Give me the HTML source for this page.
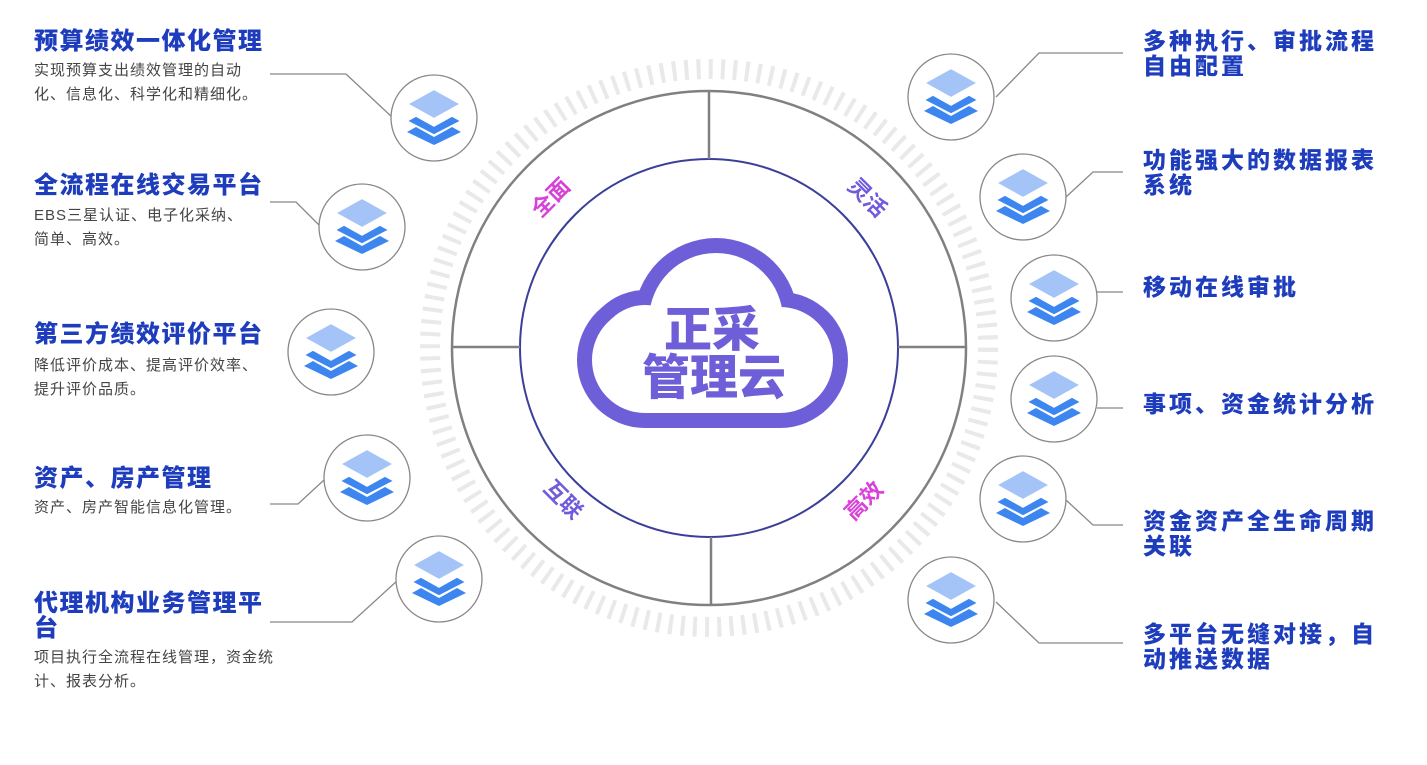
<!DOCTYPE html>
<html><head><meta charset="utf-8"><style>
body{margin:0;width:1427px;height:765px;background:#fff;position:relative;overflow:hidden;font-family:"Liberation Sans","Noto Sans CJK SC",sans-serif}
.t{position:absolute;color:#1e3dbd;font-weight:900;font-size:24px;line-height:25px;letter-spacing:1.5px;white-space:nowrap}
.r{font-size:23px;letter-spacing:3px}
.d{position:absolute;color:#444;font-size:15px;line-height:24px;letter-spacing:1px;white-space:nowrap}
svg{position:absolute;left:0;top:0}
</style></head><body>
<svg width="1427" height="765" viewBox="0 0 1427 765">
<defs>
<g id="ic">
<circle r="43" fill="#fff" stroke="#888" stroke-width="1.3"/>
<path d="M-27,14 L-18,9 L0,19 L18,9 L27,14 L0,27Z" fill="#3d86f0"/>
<path d="M-27,3 L-18,-2 L0,8 L18,-2 L27,3 L0,17Z" fill="#3d86f0" stroke="#fff" stroke-width="1.5"/>
<path d="M-27,-14 L0,-29 L27,-14 L0,1Z" fill="#a4c4f8" stroke="#fff" stroke-width="2"/>
</g>
</defs>
<circle cx="709" cy="348" r="279" fill="none" stroke="#e9e9e9" stroke-width="20" stroke-dasharray="4 8.17"/>
<circle cx="709" cy="348" r="257" fill="#fff" stroke="#808080" stroke-width="2.5"/>
<circle cx="709" cy="348" r="189" fill="#fff" stroke="#3b3f9a" stroke-width="2"/>
<g stroke="#808080" stroke-width="2.5">
<line x1="709" y1="91" x2="709" y2="159"/><line x1="711" y1="537" x2="711" y2="605"/>
<line x1="452" y1="347" x2="520" y2="347"/><line x1="898" y1="347" x2="966" y2="347"/>
</g>
<g fill="#6e5fd8">
<circle cx="716" cy="320" r="82"/><circle cx="645" cy="352" r="62"/>
<rect x="577" y="292" width="271" height="136" rx="68"/>
</g>
<g fill="#fff">
<circle cx="716" cy="320" r="67"/><circle cx="645" cy="352" r="47"/>
<rect x="592" y="307" width="241" height="106" rx="53"/>
</g>
<text x="712" y="346" text-anchor="middle" font-size="48" font-weight="900" fill="#6e5fd8" font-family="Liberation Sans,Noto Sans CJK SC,sans-serif">正采</text>
<text x="714" y="394" text-anchor="middle" font-size="48" font-weight="900" fill="#6e5fd8" font-family="Liberation Sans,Noto Sans CJK SC,sans-serif">管理云</text>
<g font-size="22" font-weight="700" font-family="Liberation Sans,Noto Sans CJK SC,sans-serif" text-anchor="middle">
<text transform="translate(556,203) rotate(-45)" fill="#d93fd9">全面</text>
<text transform="translate(862,203) rotate(45)" fill="#6f5bdc">灵活</text>
<text transform="translate(558,505) rotate(45)" fill="#6f5bdc">互联</text>
<text transform="translate(869,506) rotate(-45)" fill="#d93fd9">高效</text>
</g>
<g stroke="#888" stroke-width="1.3" fill="none">
<polyline points="270,74 346,74 393,118"/>
<polyline points="270,202 296,202 322,228"/>
<polyline points="270,504 298,504 324,480"/>
<polyline points="270,622 352,622 398,580"/>
<polyline points="996,97 1039,53 1123,53"/>
<polyline points="1066,197 1093,172 1123,172"/>
<polyline points="1097,292 1123,292"/>
<polyline points="1097,408 1123,408"/>
<polyline points="1066,500 1093,525 1123,525"/>
<polyline points="996,602 1039,643 1123,643"/>
</g>
<use href="#ic" x="434" y="118"/><use href="#ic" x="362" y="227"/><use href="#ic" x="331" y="352"/>
<use href="#ic" x="367" y="478"/><use href="#ic" x="439" y="579"/>
<use href="#ic" x="951" y="97"/><use href="#ic" x="1023" y="197"/><use href="#ic" x="1054" y="298"/>
<use href="#ic" x="1054" y="399"/><use href="#ic" x="1023" y="499"/><use href="#ic" x="951" y="600"/>
</svg>
<div class="t" style="left:34px;top:29px">预算绩效一体化管理</div>
<div class="d" style="left:34px;top:59px">实现预算支出绩效管理的自动<br>化、信息化、科学化和精细化。</div>
<div class="t" style="left:34px;top:173px">全流程在线交易平台</div>
<div class="d" style="left:34px;top:204px">EBS三星认证、电子化采纳、<br>简单、高效。</div>
<div class="t" style="left:34px;top:322px">第三方绩效评价平台</div>
<div class="d" style="left:34px;top:354px">降低评价成本、提高评价效率、<br>提升评价品质。</div>
<div class="t" style="left:34px;top:466px">资产、房产管理</div>
<div class="d" style="left:34px;top:496px">资产、房产智能信息化管理。</div>
<div class="t" style="left:34px;top:591px">代理机构业务管理平<br>台</div>
<div class="d" style="left:34px;top:646px">项目执行全流程在线管理，资金统<br>计、报表分析。</div>
<div class="t r" style="left:1143px;top:29px">多种执行、审批流程<br>自由配置</div>
<div class="t r" style="left:1143px;top:148px">功能强大的数据报表<br>系统</div>
<div class="t r" style="left:1143px;top:275px">移动在线审批</div>
<div class="t r" style="left:1143px;top:392px">事项、资金统计分析</div>
<div class="t r" style="left:1143px;top:509px">资金资产全生命周期<br>关联</div>
<div class="t r" style="left:1143px;top:622px">多平台无缝对接，自<br>动推送数据</div>
</body></html>
